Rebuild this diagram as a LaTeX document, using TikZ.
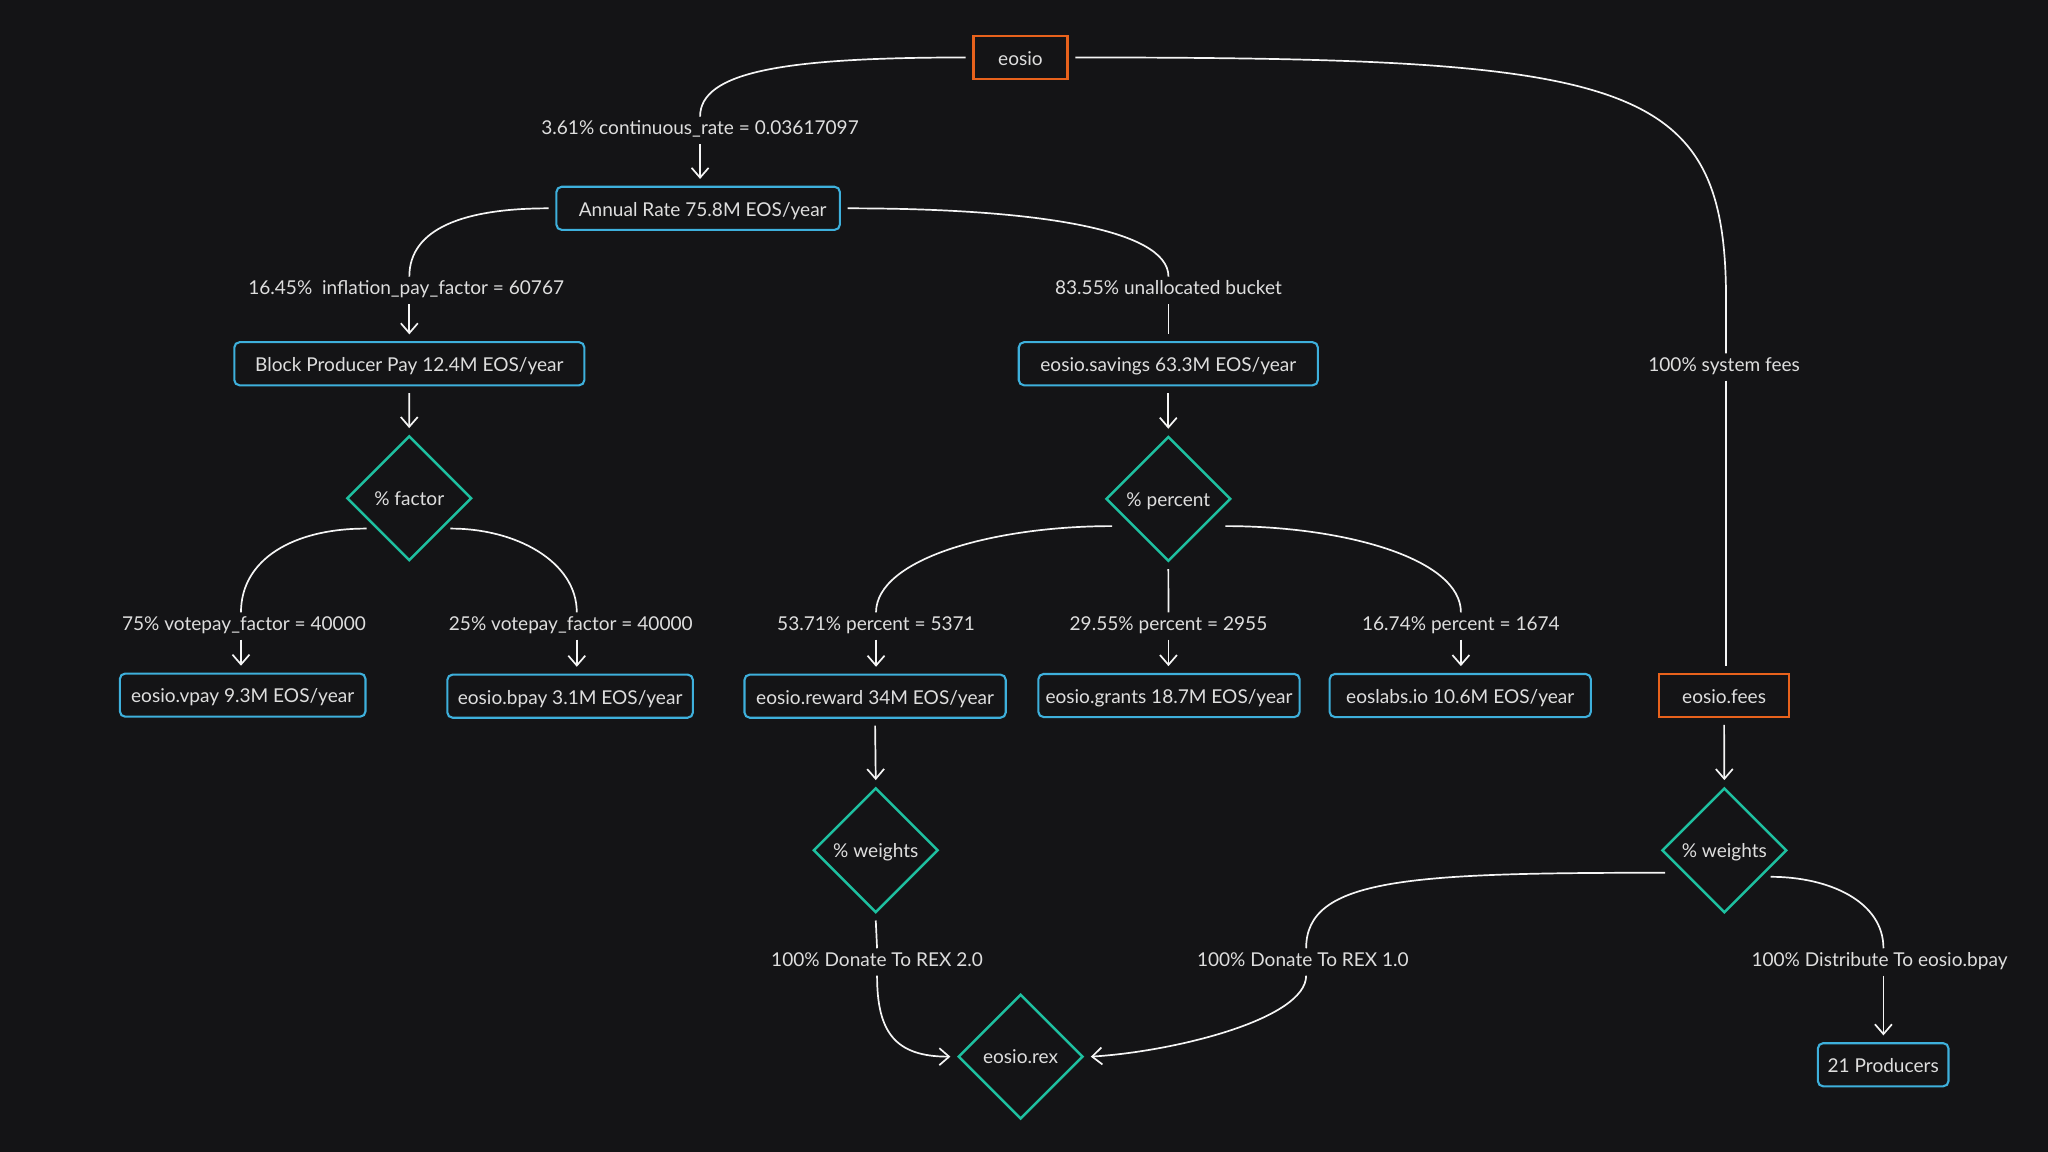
\documentclass[tikz,border=0pt]{standalone}
\usepackage{fontspec}
\setmainfont{Lato}
\usetikzlibrary{arrows.meta,shapes.geometric,calc}
\definecolor{bgc}{RGB}{20,20,22}
\definecolor{bluec}{RGB}{62,176,220}
\definecolor{orangec}{RGB}{232,98,28}
\definecolor{tealc}{RGB}{30,192,160}
\definecolor{txtc}{RGB}{222,222,222}
\definecolor{linec}{RGB}{245,245,245}
\begin{document}
\begin{tikzpicture}[x=1pt,y=-1pt,
  every node/.style={font=\fontsize{14.6}{17}\selectfont, text=txtc},
  bbox/.style={draw=bluec, line width=1.6pt, rounded corners=4pt, minimum height=33pt, inner sep=0pt, outer sep=6pt, text height=12pt, text depth=0pt},
  obox/.style={draw=orangec, line width=1.6pt, minimum height=33pt, inner sep=0pt, outer sep=6pt, text height=12pt, text depth=0pt},
  dnode/.style={diamond, draw=tealc, line width=1.9pt, minimum width=98.5pt, minimum height=98.5pt, inner sep=0pt, outer sep=4.5pt, text height=11pt, text depth=0pt},
  lbl/.style={inner sep=0pt, outer sep=4pt, text height=10pt, text depth=3pt},
  conn/.style={draw=linec, line width=1.3pt},
  arr/.style={conn, -{Straight Barb[length=7.5pt,width=13pt]}}
]
\path[use as bounding box, fill=bgc] (0,0) rectangle (1568,882);

% boxes
\node[obox, minimum width=72pt] (eosio) at (781.3,44) {eosio};
\node[bbox, minimum width=217pt] (annual) at (534.5,159.5) {\hspace*{7pt}Annual Rate 75.8M EOS/year};
\node[bbox, minimum width=268pt] (bpp) at (313.4,278.5) {Block Producer Pay 12.4M EOS/year};
\node[bbox, minimum width=229pt] (savings) at (894.5,278.5) {eosio.savings 63.3M EOS/year};
\node[dnode] (fac) at (313.3,381.5) {\% factor};
\node[dnode] (pct) at (894.5,382) {\% percent};
\node[bbox, minimum width=188pt] (vpay) at (185.8,532.2) {eosio.vpay 9.3M EOS/year};
\node[bbox, minimum width=188pt] (bpay) at (436.5,533) {eosio.bpay 3.1M EOS/year};
\node[bbox, minimum width=200pt] (reward) at (670,533) {eosio.reward 34M EOS/year};
\node[bbox, minimum width=200pt] (grants) at (895,532.5) {eosio.grants 18.7M EOS/year};
\node[bbox, minimum width=200pt] (eoslabs) at (1118,532.5) {eoslabs.io 10.6M EOS/year};
\node[obox, minimum width=100pt] (fees) at (1320,532.5) {eosio.fees};
\node[dnode] (weightsL) at (670.5,651) {\% weights};
\node[dnode] (weightsR) at (1320.2,651) {\% weights};
\node[dnode] (rex) at (781.4,809) {eosio.rex};
\node[bbox, minimum width=100pt] (producers) at (1441.8,815.2) {21 Producers};

% labels
\node[lbl] (l1) at (536,99.8) {3.61\% continuous\_rate = 0.03617097};
\node[lbl] (l2) at (311,222.3) {16.45\%~ inflation\_pay\_factor = 60767};
\node[lbl] (l3) at (894.6,222.3) {83.55\% unallocated bucket};
\node[lbl] (l4) at (1320,281) {100\% system fees};
\node[lbl] (l5) at (186.8,479.3) {75\% votepay\_factor = 40000};
\node[lbl] (l6) at (437,479.3) {25\% votepay\_factor = 40000};
\node[lbl] (l7) at (670.7,479.3) {53.71\% percent = 5371};
\node[lbl] (l8) at (894.6,479.3) {29.55\% percent = 2955};
\node[lbl] (l9) at (1118.5,479.3) {16.74\% percent = 1674};
\node[lbl] (l10) at (671.5,736.5) {100\% Donate To REX 2.0};
\node[lbl] (l11) at (997.5,736.5) {100\% Donate To REX 1.0};
\node[lbl] (l12) at (1439,736.5) {100\% Distribute To eosio.bpay};

% connectors
\draw[conn] (eosio.west) .. controls (600,44) and (536,55) .. (l1.north);
\draw[arr] (l1.south) -- (l1.south |- annual.north);

\draw[conn] (annual.west) .. controls (355,159.5) and (313.4,175) .. (l2.north -| bpp.north);
\draw[arr] (l2.south -| bpp.north) -- (bpp.north);

\draw[conn] (annual.east) .. controls (790,159.5) and (894.6,175) .. (l3.north);
\draw[conn] (l3.south) -- (l3.south |- savings.north);

\draw[conn] (eosio.east) .. controls (1250,44) and (1321.5,60) .. (1321.5,230) -- ($(l4.north)+(1.5,0)$);
\draw[conn] ($(l4.south)+(1.5,0)$) -- ($(l4.south |- fees.north)+(1.5,0)$);

\draw[arr] (bpp.south) -- (fac.north);
\draw[arr] (savings.south) -- (pct.north);

\draw[conn] ($(fac.center)+(-32.6,23.2)$) .. controls (225,404.5) and (184.5,428) .. ($(l5.north)+(-2.3,0)$);
\draw[arr] ($(l5.south)+(-2.3,0)$) -- ($(l5.south |- vpay.north)+(-2.3,0)$);

\draw[conn] ($(fac.center)+(31.5,23.2)$) .. controls (395,404.5) and (441.6,430) .. ($(l6.north)+(4.6,0)$);
\draw[arr] ($(l6.south)+(4.6,0)$) -- ($(l6.south |- bpay.north)+(4.6,0)$);

\draw[conn] ($(pct.center)+(-43,20.8)$) .. controls (760,402.8) and (671,428) .. (l7.north);
\draw[arr] (l7.south) -- (l7.south |- reward.north);

\draw[conn] (pct.south) -- (l8.north);
\draw[arr] (l8.south) -- (l8.south |- grants.north);

\draw[conn] ($(pct.center)+(43.7,20.8)$) .. controls (1030,402.8) and (1118.5,428) .. (l9.north);
\draw[arr] (l9.south) -- (l9.south |- eoslabs.north);

\draw[arr] (reward.south) -- (weightsL.north);
\draw[arr] (fees.south) -- (weightsR.north);

\draw[conn] (weightsL.south) -- (l10.north);
\draw[arr] (l10.south) .. controls (671.5,790) and (685,809) .. (rex.west);

\draw[conn] ($(weightsR.center)+(-45.3,17.2)$) .. controls (1080,668.2) and (1000,672) .. ($(l11.north)+(2.5,0)$);
\draw[arr] ($(l11.south)+(2.5,0)$) .. controls (1000,780) and (900,805) .. (rex.east);

\draw[conn] ($(weightsR.center)+(35.5,20.3)$) .. controls (1400,671.3) and (1442,690) .. ($(l12.north)+(3,0)$);
\draw[arr] ($(l12.south)+(3,0)$) -- ($(l12.south |- producers.north)+(3,0)$);
\end{tikzpicture}
\end{document}
